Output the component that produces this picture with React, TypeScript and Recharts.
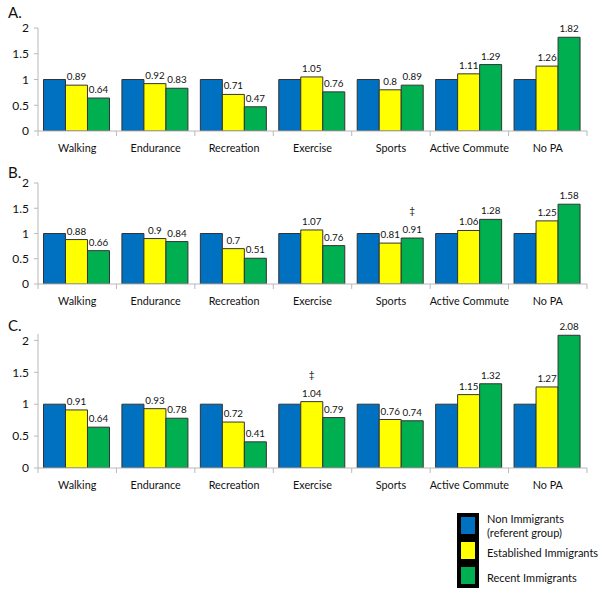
import React from "react";
import { BarChart, Bar, XAxis, YAxis, LabelList } from "recharts";

const categories = ["Walking", "Endurance", "Recreation", "Exercise", "Sports", "Active Commute", "No PA"];
const seriesNames = ["Non Immigrants\n(referent group)", "Established Immigrants", "Recent Immigrants"];
const seriesColors = ["#0070C0", "#FFFF00", "#00B050"];
const yTicks = [0, 0.5, 1, 1.5, 2];

const nonImmigrants = [1, 1, 1, 1, 1, 1, 1];

const establishedA = [0.89, 0.92, 0.71, 1.05, 0.8, 1.11, 1.26];
const recentA = [0.64, 0.83, 0.47, 0.76, 0.89, 1.29, 1.82];

const establishedB = [0.88, 0.9, 0.7, 1.07, 0.81, 1.06, 1.25];
const recentB = [0.66, 0.84, 0.51, 0.76, 0.91, 1.28, 1.58];
const recentMarksB = ["", "", "", "", "‡", "", ""];

const establishedC = [0.91, 0.93, 0.72, 1.04, 0.76, 1.15, 1.27];
const recentC = [0.64, 0.78, 0.41, 0.79, 0.74, 1.32, 2.08];
const establishedMarksC = ["", "", "", "‡", "", "", ""];

const FONT = "Lato, 'Open Sans', sans-serif";
const AXIS_COLOR = "#b8b8b8";
const CHART_W = 600;
const Y_W = 38;
const M_RIGHT = 13;
const BAND = (CHART_W - Y_W - M_RIGHT) / categories.length;

function CatTick(props: any) {
  const { x, y, payload, index } = props;
  const last = index === categories.length - 1;
  return (
    <g>
      <line x1={x - BAND / 2} x2={x - BAND / 2} y1={y} y2={y + 5} stroke={AXIS_COLOR} />
      {last && <line x1={x + BAND / 2} x2={x + BAND / 2} y1={y} y2={y + 5} stroke={AXIS_COLOR} />}
      <text x={x} y={y + 21} textAnchor="middle" fontSize={10.8} fill="#111" fontFamily={FONT}>
        {payload.value}
      </text>
    </g>
  );
}

type PanelProps = {
  letter: string;
  letterTop: number;
  top: number;
  height: number;
  marginTop: number;
  yMax: number;
  est: number[];
  rec: number[];
  estMarks?: string[];
  recMarks?: string[];
};

function Panel({ letter, letterTop, top, height, marginTop, yMax, est, rec, estMarks, recMarks }: PanelProps) {
  const data = categories.map((c, i) => ({
    cat: c,
    non: nonImmigrants[i],
    est: est[i],
    rec: rec[i],
    estMark: estMarks ? estMarks[i] : "",
    recMark: recMarks ? recMarks[i] : "",
  }));
  return (
    <div style={{ position: "absolute", left: 0, top, width: CHART_W, height }}>
      <BarChart
        width={CHART_W}
        height={height}
        data={data}
        margin={{ top: marginTop, right: M_RIGHT, left: 0, bottom: 0 }}
        barCategoryGap="7%"
        barGap={0}
      >
        <XAxis
          dataKey="cat"
          height={34}
          axisLine={{ stroke: AXIS_COLOR }}
          tickLine={false}
          tickSize={0}
          tickMargin={0}
          interval={0}
          tick={<CatTick />}
        />
        <YAxis
          width={Y_W}
          domain={[0, yMax]}
          ticks={yTicks}
          allowDataOverflow
          axisLine={{ stroke: AXIS_COLOR }}
          tickLine={{ stroke: AXIS_COLOR }}
          tickSize={4}
          tickMargin={5}
          tick={{ fontSize: 12, fill: "#111", fontFamily: FONT }}
        />
        <Bar dataKey="non" fill={seriesColors[0]} stroke="#333" strokeWidth={1} isAnimationActive={false} />
        <Bar dataKey="est" fill={seriesColors[1]} stroke="#333" strokeWidth={1} isAnimationActive={false}>
          <LabelList dataKey="est" position="top" offset={5} fontSize={9.8} fill="#111" fontFamily={FONT} />
          {estMarks && <LabelList dataKey="estMark" position="top" offset={24} fontSize={10} fill="#111" fontFamily={FONT} />}
        </Bar>
        <Bar dataKey="rec" fill={seriesColors[2]} stroke="#333" strokeWidth={1} isAnimationActive={false}>
          <LabelList dataKey="rec" position="top" offset={5} fontSize={9.8} fill="#111" fontFamily={FONT} />
          {recMarks && <LabelList dataKey="recMark" position="top" offset={24} fontSize={10} fill="#111" fontFamily={FONT} />}
        </Bar>
      </BarChart>
      <div style={{ position: "absolute", left: 8, top: letterTop, fontSize: 15, lineHeight: "18px", fontFamily: FONT, color: "#111" }}>
        {letter}
      </div>
    </div>
  );
}

function LegendBox() {
  const tops = [513, 538, 563];
  const textTops = [[511, 525], [545], [570]];
  return (
    <>
      {seriesNames.map((name, i) => (
        <React.Fragment key={name}>
          <div
            style={{
              position: "absolute",
              left: 457,
              top: tops[i],
              width: 14,
              height: 17,
              border: "4px solid #000",
              background: seriesColors[i],
            }}
          />
          {name.split("\n").map((line, j) => (
            <div
              key={line}
              style={{
                position: "absolute",
                left: 487,
                top: textTops[i][j],
                fontSize: 11,
                fontFamily: FONT,
                color: "#111",
                whiteSpace: "nowrap",
                lineHeight: "15px",
              }}
            >
              {line}
            </div>
          ))}
        </React.Fragment>
      ))}
    </>
  );
}

export default function App() {
  return (
    <div style={{ position: "absolute", left: 0, top: 0, width: 600, height: 594, background: "#fff", overflow: "hidden" }}>
      <Panel letter="A." letterTop={3} top={0} height={165} marginTop={28} yMax={2} est={establishedA} rec={recentA} />
      <Panel letter="B." letterTop={0} top={163} height={155} marginTop={20} yMax={2} est={establishedB} rec={recentB} recMarks={recentMarksB} />
      <Panel letter="C." letterTop={0} top={316} height={186} marginTop={18} yMax={2.1} est={establishedC} rec={recentC} estMarks={establishedMarksC} />
      <LegendBox />
    </div>
  );
}
